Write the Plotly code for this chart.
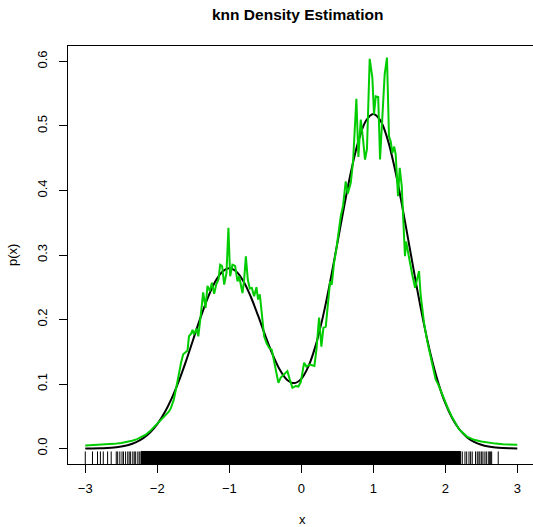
import plotly.graph_objects as go

# ---- data ----
true_x = [-3.0, -2.9, -2.8, -2.7, -2.6, -2.5, -2.4, -2.3, -2.2, -2.1, -2.0, -1.9, -1.8, -1.7, -1.6,
          -1.5, -1.4, -1.3, -1.2, -1.1, -1.0, -0.9, -0.8, -0.7, -0.6, -0.5, -0.4, -0.3, -0.2, -0.1,
          0.0, 0.1, 0.2, 0.3, 0.4, 0.5, 0.6, 0.7, 0.8, 0.9, 1.0, 1.1, 1.2, 1.3, 1.4, 1.5, 1.6, 1.7,
          1.8, 1.9, 2.0, 2.1, 2.2, 2.3, 2.4, 2.5, 2.6, 2.7, 2.8, 2.9, 3.0]
true_p = [0.0001, 0.0002, 0.0004, 0.0009, 0.0017, 0.0031, 0.0055, 0.0095, 0.0157, 0.0248, 0.0378,
          0.0553, 0.0776, 0.1048, 0.1359, 0.1694, 0.2028, 0.2333, 0.2578, 0.2738, 0.2794, 0.2741,
          0.2586, 0.2349, 0.2059, 0.1751, 0.1462, 0.1224, 0.1067, 0.1014, 0.1080, 0.1275, 0.1599,
          0.2041, 0.2580, 0.3177, 0.3782, 0.4341, 0.4792, 0.5086, 0.5187, 0.5084, 0.4788, 0.4332,
          0.3766, 0.3146, 0.2525, 0.1947, 0.1442, 0.1026, 0.0702, 0.0461, 0.0291, 0.0176, 0.0103,
          0.0058, 0.0031, 0.0016, 0.0008, 0.0004, 0.0002]

knn_x = [-3.00, -2.90, -2.80, -2.70, -2.60, -2.50, -2.43, -2.35, -2.28, -2.22, -2.16, -2.10, -2.05,
         -2.00, -1.94, -1.88, -1.84, -1.81, -1.77, -1.73, -1.70, -1.67, -1.64, -1.60, -1.58, -1.56,
         -1.53, -1.51, -1.49, -1.455, -1.43, -1.395, -1.363, -1.33, -1.303, -1.27, -1.242, -1.21,
         -1.18, -1.15, -1.127, -1.10, -1.071, -1.039, -1.012, -0.988, -0.956, -0.919, -0.886,
         -0.863, -0.835, -0.817, -0.795, -0.770, -0.743, -0.715, -0.687, -0.655, -0.623, -0.600,
         -0.576, -0.548, -0.516, -0.484, -0.447, -0.410, -0.377, -0.345, -0.318, -0.285, -0.250,
         -0.215, -0.193, -0.160, -0.123, -0.077, -0.040, -0.007, 0.039, 0.071, 0.118, 0.150, 0.182,
         0.210, 0.247, 0.279, 0.307, 0.340, 0.376, 0.400, 0.423, 0.455, 0.487, 0.515, 0.548, 0.580,
         0.617, 0.645, 0.687, 0.719, 0.765, 0.793, 0.826, 0.858, 0.885, 0.912, 0.950, 0.987, 1.010,
         1.034, 1.068, 1.094, 1.125, 1.158, 1.190, 1.218, 1.242, 1.265, 1.290, 1.311, 1.343, 1.367,
         1.395, 1.425, 1.440, 1.455, 1.496, 1.540, 1.580, 1.635, 1.658, 1.704, 1.750, 1.800, 1.840,
         1.866, 1.903, 1.958, 2.030, 2.097, 2.190, 2.300, 2.400, 2.500, 2.600, 2.700, 2.800, 2.900,
         3.000]
knn_p = [0.0045, 0.0050, 0.0056, 0.0063, 0.0072, 0.0085, 0.0098, 0.0120, 0.0145, 0.0175, 0.0215,
         0.0270, 0.0330, 0.0385, 0.0455, 0.0520, 0.0570, 0.0630, 0.0760, 0.0980, 0.1170, 0.1330,
         0.1460, 0.1510, 0.1520, 0.1740, 0.1780, 0.1840, 0.1770, 0.1860, 0.1740, 0.2080, 0.2420,
         0.2180, 0.2520, 0.2440, 0.2570, 0.2400, 0.2550, 0.2620, 0.2850, 0.2830, 0.2540, 0.2720,
         0.3420, 0.2670, 0.2850, 0.2830, 0.2590, 0.2670, 0.2540, 0.2410, 0.2600, 0.2980, 0.2620,
         0.2480, 0.2490, 0.2360, 0.2500, 0.2310, 0.2390, 0.2080, 0.1740, 0.1640, 0.1560, 0.1530,
         0.1350, 0.1170, 0.1020, 0.1100, 0.1140, 0.1170, 0.1200, 0.1070, 0.0940, 0.0970, 0.0960,
         0.1030, 0.1330, 0.1270, 0.1300, 0.1290, 0.1280, 0.1530, 0.2030, 0.1580, 0.1870, 0.1890,
         0.2260, 0.2590, 0.2540, 0.2880, 0.3090, 0.3340, 0.3600, 0.3760, 0.4140, 0.3950, 0.4120,
         0.4450, 0.5420, 0.4520, 0.5100, 0.4790, 0.4480, 0.4640, 0.6040, 0.5750, 0.5180, 0.5460,
         0.5450, 0.4480, 0.5100, 0.5800, 0.6060, 0.4840, 0.4760, 0.4580, 0.4680, 0.4560, 0.3910,
         0.4350, 0.4070, 0.3450, 0.2980, 0.3210, 0.2930, 0.2700, 0.2490, 0.2750, 0.2380, 0.1950,
         0.1660, 0.1400, 0.1220, 0.1070, 0.0990, 0.0830, 0.0640, 0.0480, 0.0300, 0.0185, 0.0135,
         0.0110, 0.0090, 0.0076, 0.0067, 0.0061, 0.0057]

# rug: isolated sample positions in the tails, and the span where ticks merge into a solid band
rug_sparse = [-3.00, -2.90, -2.83, -2.79, -2.75, -2.69, -2.64, -2.57, -2.55, -2.52, -2.49, -2.47,
              -2.44, -2.41, -2.39, -2.37, -2.34, -2.32, -2.30, -2.27, -2.25,
              2.236, 2.273, 2.297, 2.329, 2.352, 2.374, 2.42, 2.444, 2.467, 2.481, 2.505, 2.523,
              2.55, 2.57, 2.597, 2.616, 2.63, 2.644, 2.735]
rug_dense = [-2.227, 2.213]

x_ticks = [-3, -2, -1, 0, 1, 2, 3]
x_tick_text = ["\u22123", "\u22122", "\u22121", "0", "1", "2", "3"]
y_ticks = [0.0, 0.1, 0.2, 0.3, 0.4, 0.5, 0.6]
y_tick_text = ["0.0", "0.1", "0.2", "0.3", "0.4", "0.5", "0.6"]

X_RANGE = [-3.24, 3.218]
Y_RANGE = [-0.024, 0.624]
RUG_TOP = Y_RANGE[0] + 0.03 * (Y_RANGE[1] - Y_RANGE[0])

FONT = "Liberation Sans, Arial, Helvetica, sans-serif"

fig = go.Figure()

# rug ticks
rx, ry = [], []
for v in rug_sparse:
    rx += [v, v, None]
    ry += [Y_RANGE[0], RUG_TOP, None]
fig.add_trace(go.Scatter(x=rx, y=ry, mode="lines", line=dict(color="black", width=1),
                         hoverinfo="skip", showlegend=False))
fig.add_trace(go.Scatter(x=[rug_dense[0], rug_dense[1], rug_dense[1], rug_dense[0], rug_dense[0]],
                         y=[Y_RANGE[0], Y_RANGE[0], RUG_TOP, RUG_TOP, Y_RANGE[0]],
                         mode="lines", fill="toself", fillcolor="black",
                         line=dict(color="black", width=1), hoverinfo="skip", showlegend=False))

# true density
fig.add_trace(go.Scatter(x=true_x, y=true_p, mode="lines",
                         line=dict(color="black", width=2, shape="spline", smoothing=1.0),
                         showlegend=False))
# knn estimate
fig.add_trace(go.Scatter(x=knn_x, y=knn_p, mode="lines",
                         line=dict(color="#00CD00", width=2),
                         showlegend=False))

W, H = 533, 527
ML, MR, MT = 68, 0, 46
MB = H - 464
pw, ph = W - ML - MR, H - MT - MB

def px_to_paper(px, py):
    return (px - ML) / pw, (H - MB - py) / ph

tx, ty = px_to_paper(297, 14)
yx, yy = px_to_paper(12, 255)
xx, xy = px_to_paper(302, 519)

fig.update_layout(
    width=W, height=H,
    margin=dict(l=ML, r=MR, t=MT, b=MB, pad=0),
    paper_bgcolor="white", plot_bgcolor="white",
    font=dict(family=FONT, size=13, color="black"),
    xaxis=dict(range=X_RANGE, showgrid=False, zeroline=False, showline=True, linecolor="black",
               linewidth=1, mirror=True, ticks="outside", ticklen=8, tickwidth=1, tickcolor="black",
               tickvals=x_ticks, ticktext=x_tick_text, ticklabelstandoff=4, automargin=False,
               tickfont=dict(family=FONT, size=13, color="black")),
    yaxis=dict(range=Y_RANGE, showgrid=False, zeroline=False, showline=True, linecolor="black",
               linewidth=1, mirror=False, ticks="outside", ticklen=8, tickwidth=1, tickcolor="black",
               tickvals=y_ticks, ticktext=y_tick_text, tickangle=-90, ticklabelstandoff=7,
               automargin=False,
               tickfont=dict(family=FONT, size=13, color="black")),
    annotations=[
        dict(text="<b>knn Density Estimation</b>", x=tx, y=ty, xref="paper", yref="paper",
             xanchor="center", yanchor="middle", showarrow=False,
             font=dict(family=FONT, size=15.5, color="black")),
        dict(text="p(x)", x=yx, y=yy, xref="paper", yref="paper", textangle=-90,
             xanchor="center", yanchor="middle", showarrow=False,
             font=dict(family=FONT, size=13, color="black")),
        dict(text="x", x=xx, y=xy, xref="paper", yref="paper",
             xanchor="center", yanchor="middle", showarrow=False,
             font=dict(family=FONT, size=13, color="black")),
    ],
)

# remove the browser's default page margin so the figure sits at the window's top-left corner
fig.write_html("out.html",
               config={"displayModeBar": False},
               post_script="document.body.style.margin='0';document.body.style.padding='0';"
                           "document.body.style.overflow='hidden';")
